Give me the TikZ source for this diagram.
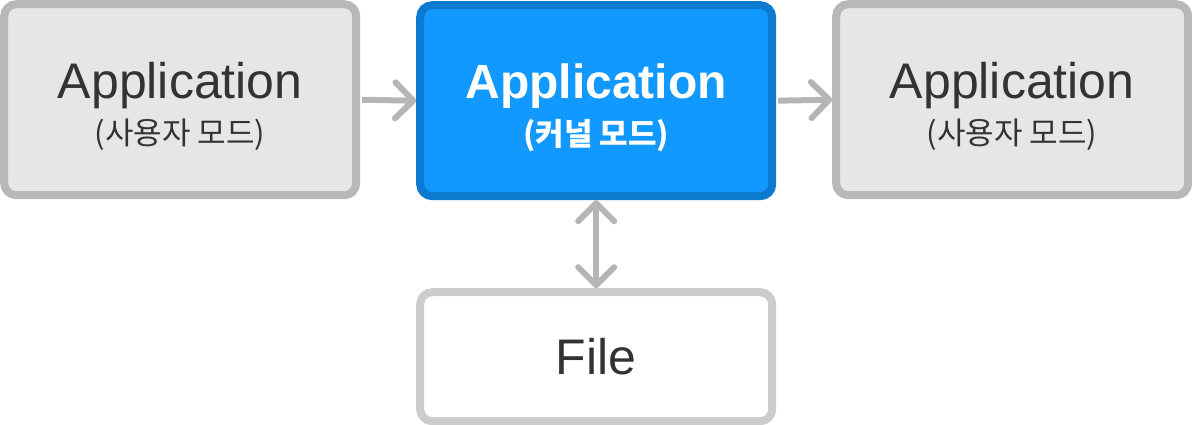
\documentclass[tikz,border=0pt]{standalone}
\usepackage{fontspec}
\setmainfont{Liberation Sans}
\newfontfamily\kr{Noto Sans CJK KR}
\usetikzlibrary{matrix,arrows.meta}
\definecolor{boxgray}{HTML}{E6E6E6}
\definecolor{linegray}{HTML}{B8B8B8}
\definecolor{filegray}{HTML}{CCCCCC}
\definecolor{kernelblue}{HTML}{1199FF}
\definecolor{kernelline}{HTML}{0C7BCF}
\definecolor{textdark}{HTML}{333333}
\definecolor{arrowgray}{HTML}{B5B5B5}
\newcommand\modetext[2]{\begin{tabular}[t]{@{}c@{}}#1\\{\kr\fontsize{31}{32}\selectfont #2}\end{tabular}}
\tikzset{
    userbox/.style={fill=boxgray, draw=linegray, text=textdark, font=\fontsize{50}{46}\selectfont, text height=20pt, text depth=23pt},
    kernelbox/.style={fill=kernelblue, draw=kernelline, text=white, font=\bfseries\fontsize{48}{47}\selectfont, text height=20pt, text depth=25pt},
    filebox/.style={fill=white, draw=filegray, text=textdark, font=\fontsize{50}{50}\selectfont, minimum height=129pt, text height=40pt, text depth=5pt},
    flow/.style={draw=arrowgray, line width=6pt, >={Straight Barb[length=18pt,width=36pt,round]}}
}
\def\ModeFlow{
    \matrix (flow) at (0pt,0pt)
    [matrix of nodes,
    anchor=north west,
    inner sep=0pt,
    ampersand replacement=\&,
    column sep={56pt},
    row sep={88pt},
    nodes={line width=8pt, rounded corners=12pt, inner sep=0pt, minimum width=352pt, minimum height=191pt, rectangle} ]
    {
     |[userbox]| \modetext{Application}{(사용자 모드)} \& |[kernelbox]| \modetext{Application}{(커널 모드)} \& |[userbox]| \modetext{Application}{(사용자 모드)} \\
     \& |[filebox]| File \& \\
};
}

\begin{document}
\begin{tikzpicture}
    \useasboundingbox (0pt,0pt) rectangle (1192pt,-424pt);
    \ModeFlow
    \draw[flow,->,shorten <=2pt] (flow-1-1.east) -- (flow-1-2.west);
    \draw[flow,->,shorten <=2pt] (flow-1-2.east) -- (flow-1-3.west);
    \draw[flow,<->] (flow-1-2.south) -- (flow-2-2.north);
\end{tikzpicture}
\end{document}
